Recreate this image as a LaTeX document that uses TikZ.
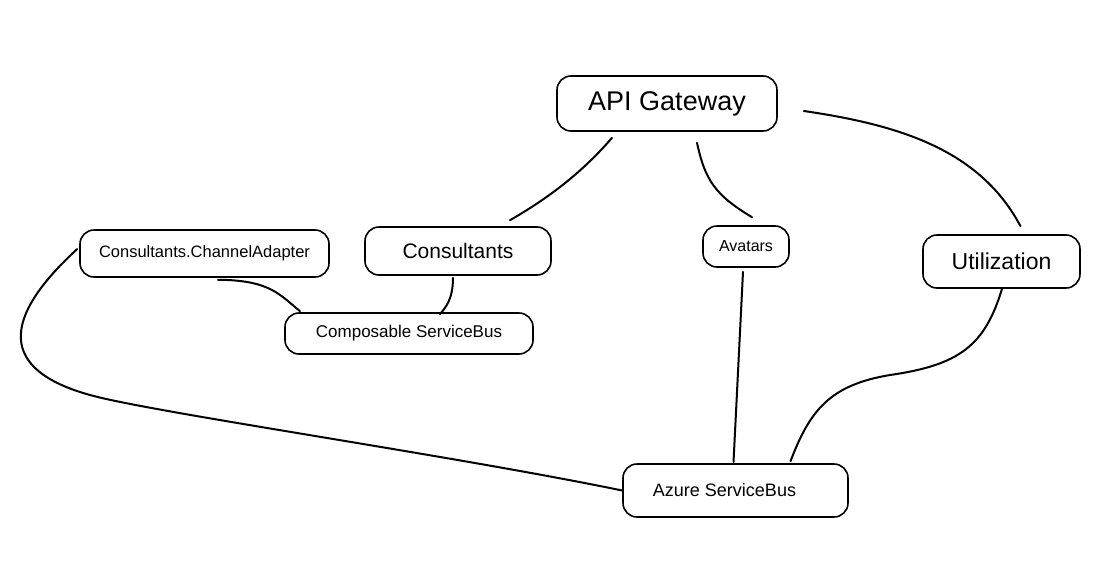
\documentclass[tikz,border=0pt]{standalone}
\usepackage{fontspec}
\setmainfont{Liberation Sans}
\usetikzlibrary{calc}
\begin{document}
\begin{tikzpicture}[x=1pt,y=-1pt,
  box/.style={draw, line width=1.6pt, rounded corners=14pt, inner sep=0pt, align=center},
  link/.style={line width=2pt, line cap=round}]
\useasboundingbox (0,0) rectangle (1097,573);
\fill[white] (0,0) rectangle (1097,573);
% nodes
\node[box, minimum width=220pt, minimum height=55pt, font=\fontsize{27}{30}\selectfont] (api) at (667,103.5) {API Gateway};
\node[box, minimum width=249pt, minimum height=47pt, font=\fontsize{16.5}{19}\selectfont] (ca) at (204.5,253.5) {Consultants.ChannelAdapter};
\node[box, minimum width=186pt, minimum height=48pt, font=\fontsize{21}{24}\selectfont] (cons) at (458,251) {Consultants};
\node[box, minimum width=248pt, minimum height=41pt, font=\fontsize{17}{20}\selectfont] (comp) at (409,333.5) {Composable ServiceBus};
\node[box, minimum width=86pt, minimum height=41pt, font=\fontsize{16}{19}\selectfont] (av) at (746,246.5) {Avatars};
\node[box, minimum width=157pt, minimum height=53pt, font=\fontsize{23}{26}\selectfont] (util) at (1001.5,261.5) {Utilization};
\node[box, minimum width=225pt, minimum height=53pt, font=\fontsize{18}{21}\selectfont] (az) at (735.5,490.5) {\hspace*{-22pt}Azure ServiceBus};
% connectors
\draw[link] ($(api.south)+(-55,6)$) .. controls (580,175) and (545,200) .. ($(cons.north)+(52,-6)$);
\draw[link] ($(api.south)+(30,11)$) .. controls (705,180) and (715,195) .. ($(av.north)+(6,-8)$);
\draw[link] ($(api.east)+(26,7.5)$) .. controls (900,125) and (980,150) .. ($(util.north)+(19,-8)$);
\draw[link] ($(ca.south)+(13.5,2)$) .. controls (270,280) and (280,295) .. ($(comp.north)+(-109,-1)$);
\draw[link] ($(cons.south)+(-5,2)$) .. controls (453,300) and (445,308) .. ($(comp.north)+(31,2)$);
\draw[link] ($(ca.west)+(-2,-4.5)$) .. controls (0,320) and (0,370) .. (90,395) .. controls (150,412) and (450,455) .. (az.west);
\draw[link] ($(av.south)+(-3,4)$) -- ($(az.north)+(-2,-1)$);
\draw[link] ($(util.south)+(0.5,0)$) .. controls (985,345) and (960,365) .. (890,375) .. controls (830,385) and (810,410) .. ($(az.north)+(55,-2)$);
\end{tikzpicture}
\end{document}
